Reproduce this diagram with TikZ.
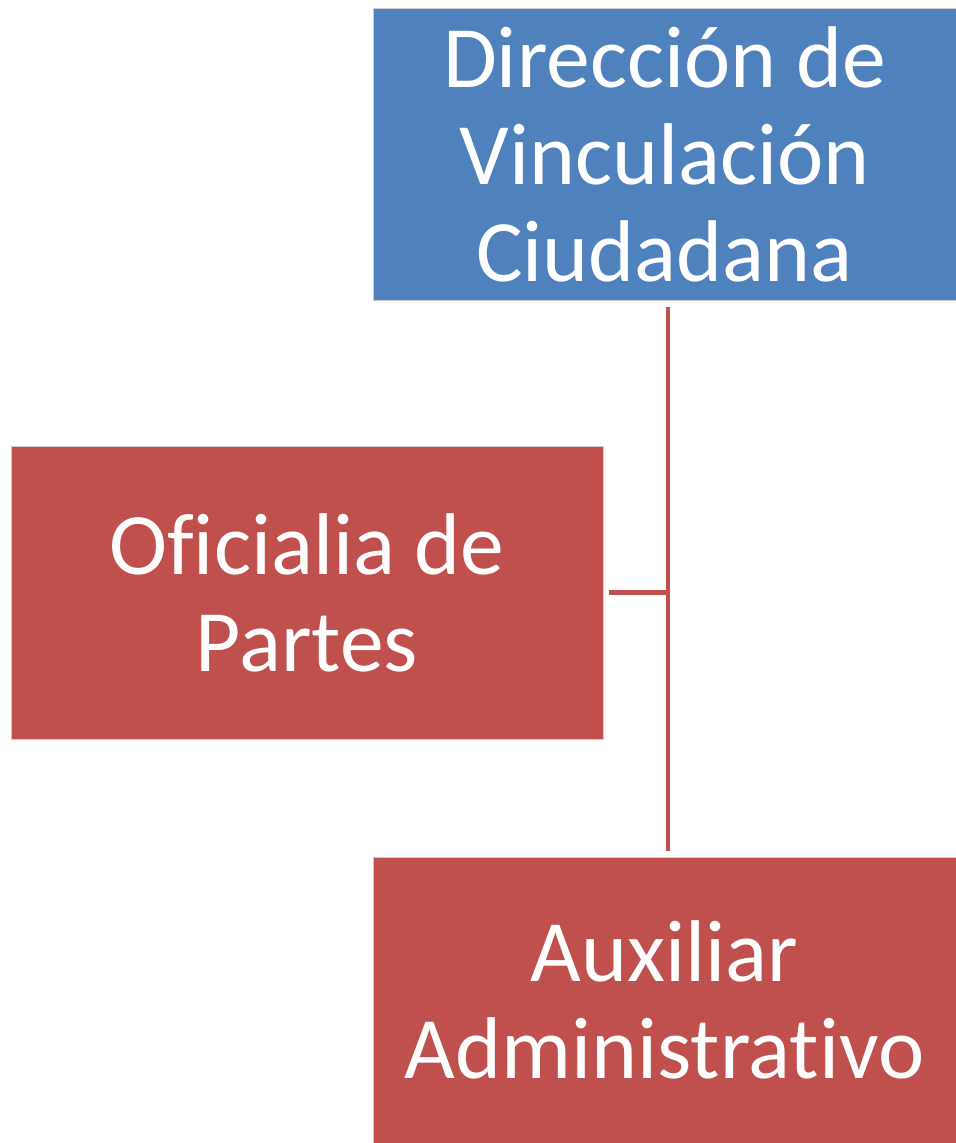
\documentclass[tikz,border=0pt]{standalone}
\usepackage{fontspec}
\setmainfont[Ligatures=CommonOff]{Carlito}
\usepackage{xcolor}
\usepackage{tikz}
\definecolor{jefeblue}{HTML}{4F81BD}
\definecolor{areared}{HTML}{C0504D}

\begin{document}
\begin{tikzpicture}[x=0.5pt, y=-0.5pt,
    unit/.style={draw=white!80!black, line width=0.4pt, text=white, align=center,
        inner sep=0pt, font=\fontsize{43.8}{48.5}\selectfont},
    link/.style={draw=areared, line width=2.2pt}]
            \useasboundingbox (0,0) rectangle (956,1143);
            \node[unit, fill=jefeblue, minimum width=291.5pt, minimum height=146pt] (dir) at (664.5,154) {Dirección de\\Vinculación\\Ciudadana};
            \node[unit, fill=areared, minimum width=296pt, minimum height=146.5pt] (ofi) at (307,592.5) {Oficialia de\\Partes};
            \node[unit, fill=areared, minimum width=291.5pt, minimum height=143pt] (aux) at (664.5,1000) {Auxiliar\\Administrativo};
            % tronco vertical y rama
            \coordinate (j) at (668,592.5);
            \draw[link] ([yshift=-3.5pt]dir.south -| j) -- ([yshift=3pt]aux.north -| j);
            \draw[link] ([xshift=3pt]ofi.east) -- (j);
        \end{tikzpicture}
\end{document}
